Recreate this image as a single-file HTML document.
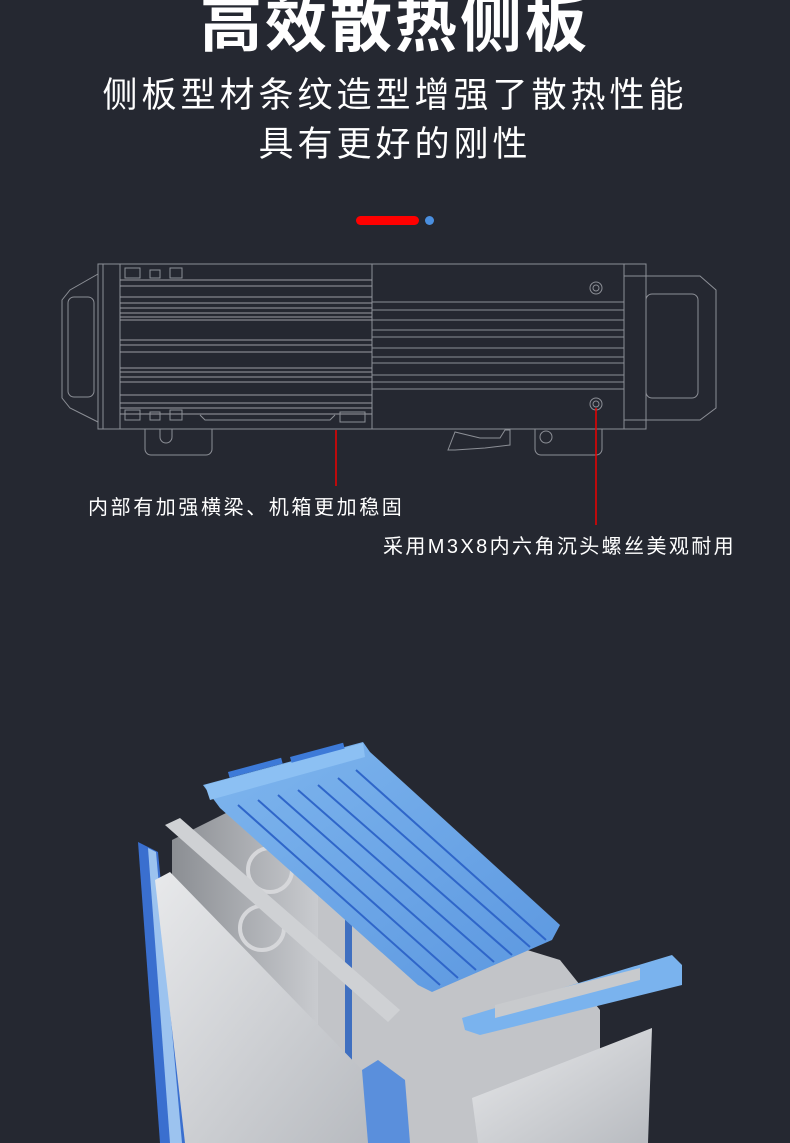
<!DOCTYPE html>
<html><head><meta charset="utf-8"><style>
html,body{margin:0;padding:0;}
body{width:790px;height:1143px;background:#252831;position:relative;overflow:hidden;font-family:"Liberation Sans","Noto Sans CJK SC",sans-serif;color:#fff;}
.t{position:absolute;left:0;width:790px;text-align:center;white-space:nowrap;}
</style></head><body>
<div class="t" style="top:-14px;font-size:62px;font-weight:bold;letter-spacing:3px;line-height:80px;">高效散热侧板</div>
<div class="t" style="top:74px;font-size:35px;letter-spacing:4px;line-height:44px;">侧板型材条纹造型增强了散热性能</div>
<div class="t" style="top:123px;font-size:35px;letter-spacing:4px;line-height:44px;">具有更好的刚性</div>
<div style="position:absolute;left:356px;top:216px;width:63px;height:9px;border-radius:5px;background:#f00;"></div>
<div style="position:absolute;left:425px;top:216px;width:9px;height:9px;border-radius:5px;background:#4a8fe0;"></div>

<svg width="790" height="1143" style="position:absolute;left:0;top:0" xmlns="http://www.w3.org/2000/svg">
<g fill="none" stroke="#8c8f96" stroke-width="1">
 <path d="M98,274 L70,290 L62,300 L62,398 L70,408 L98,422"/>
 <rect x="68" y="297" width="26" height="100" rx="6"/>
 <rect x="98" y="264" width="548" height="165"/>
 <line x1="103" y1="264" x2="103" y2="429"/>
 <line x1="120" y1="264" x2="120" y2="429"/>
 <line x1="372" y1="264" x2="372" y2="429"/>
 <line x1="624" y1="264" x2="624" y2="429"/>
 <g stroke="#9a9da4">
 <line x1="120" y1="280" x2="372" y2="280"/><line x1="120" y1="286" x2="372" y2="286"/>
 <line x1="120" y1="297" x2="372" y2="297"/><line x1="120" y1="303" x2="372" y2="303"/>
 <line x1="120" y1="308" x2="372" y2="308"/><line x1="120" y1="313" x2="372" y2="313"/>
 <line x1="120" y1="317" x2="372" y2="317"/><line x1="120" y1="320" x2="372" y2="320"/>
 <line x1="120" y1="340" x2="372" y2="340"/><line x1="120" y1="345" x2="372" y2="345"/>
 <line x1="120" y1="352" x2="372" y2="352"/><line x1="120" y1="368" x2="372" y2="368"/>
 <line x1="120" y1="372" x2="372" y2="372"/><line x1="120" y1="377" x2="372" y2="377"/>
 <line x1="120" y1="382" x2="372" y2="382"/><line x1="120" y1="395" x2="372" y2="395"/>
 <line x1="120" y1="403" x2="372" y2="403"/><line x1="120" y1="408" x2="372" y2="408"/>
 <line x1="120" y1="414" x2="372" y2="414"/>
 </g>
 <line x1="372" y1="302" x2="624" y2="302"/><line x1="372" y1="310" x2="624" y2="310"/>
 <line x1="372" y1="320" x2="624" y2="320"/><line x1="372" y1="330" x2="624" y2="330"/>
 <line x1="372" y1="337" x2="624" y2="337"/><line x1="372" y1="348" x2="624" y2="348"/>
 <line x1="372" y1="357" x2="624" y2="357"/><line x1="372" y1="363" x2="624" y2="363"/>
 <line x1="372" y1="375" x2="624" y2="375"/><line x1="372" y1="382" x2="624" y2="382"/>
 <line x1="372" y1="389" x2="624" y2="389"/>
 <circle cx="596" cy="288" r="6"/><circle cx="596" cy="288" r="3"/>
 <circle cx="596" cy="404" r="6"/><circle cx="596" cy="404" r="3"/>
 <path d="M125,268 h15 v10 h-15z M150,270 h10 v8 h-10z M170,268 h12 v10 h-12z"/>
 <path d="M125,410 h15 v10 h-15z M150,412 h10 v8 h-10z M170,410 h12 v10 h-12z M340,412 h25 v10 h-25z"/>
 <path d="M200,415 L205,420 L330,420 L335,415"/>
 <path d="M624,276 L700,276 L716,290 L716,408 L700,420 L624,420"/>
 <rect x="646" y="294" width="52" height="104" rx="6"/>
 <path d="M145,429 v20 a6,6 0 0 0 6,6 h55 a6,6 0 0 0 6,-6 v-20"/>
 <path d="M160,429 v8 a6,6 0 0 0 12,0 v-8"/>
 <path d="M535,429 v20 a6,6 0 0 0 6,6 h55 a6,6 0 0 0 6,-6 v-20"/>
 <path d="M448,450 L455,432 L480,438 L500,438 L505,430 L510,430 L510,445 L485,448 L455,450 Z"/>
 <circle cx="546" cy="437" r="6"/>
</g>
<line x1="336" y1="430" x2="336" y2="486" stroke="#e00" stroke-width="1.5"/>
<line x1="596" y1="408" x2="596" y2="525" stroke="#e00" stroke-width="1.5"/>

<defs>
 <linearGradient id="sil" x1="0" y1="0" x2="1" y2="1"><stop offset="0" stop-color="#e8e9eb"/><stop offset="1" stop-color="#b8bbc0"/></linearGradient>
 <linearGradient id="sil2" x1="0" y1="0" x2="1" y2="0"><stop offset="0" stop-color="#8b8e93"/><stop offset="1" stop-color="#c9cbcf"/></linearGradient>
 <linearGradient id="blu" x1="0" y1="0" x2="1" y2="1"><stop offset="0" stop-color="#7fb6ee"/><stop offset="1" stop-color="#5b97e0"/></linearGradient>
</defs>
<polygon points="172,840 232,810 318,880 318,1143 172,1143" fill="url(#sil2)"/>
<polygon points="318,880 380,905 560,960 600,1010 600,1143 318,1143" fill="#c2c4c8"/>
<polygon points="345,915 352,918 352,1143 345,1143" fill="#3f6fc0"/>
<circle cx="270" cy="870" r="22" fill="none" stroke="#d6d7da" stroke-width="4"/>
<circle cx="262" cy="928" r="22" fill="none" stroke="#d6d7da" stroke-width="4"/>
<polygon points="138,842 158,852 186,1143 160,1143" fill="#3a6fcf"/>
<polygon points="148,848 156,852 182,1143 170,1143" fill="#9cc3ef"/>
<polygon points="155,880 170,872 362,1070 368,1143 185,1143" fill="url(#sil)"/>
<polygon points="165,825 180,818 400,1010 388,1022" fill="#cfd1d4"/>
<polygon points="362,1070 378,1060 405,1080 410,1143 368,1143" fill="#5a8fdc"/>
<polygon points="203,785 363,742 370,752 560,925 552,940 432,992 418,985 220,808" fill="url(#blu)"/>
<g stroke="#2f66c9" stroke-width="2">
 <line x1="238" y1="805" x2="440" y2="985"/><line x1="258" y1="800" x2="458" y2="978"/>
 <line x1="278" y1="795" x2="476" y2="970"/><line x1="298" y1="790" x2="494" y2="962"/>
 <line x1="318" y1="785" x2="512" y2="955"/><line x1="338" y1="778" x2="530" y2="947"/>
 <line x1="356" y1="770" x2="546" y2="940"/>
</g>
<polygon points="205,785 363,743 365,757 210,800" fill="#8cc0f3"/>
<rect x="228" y="772" width="55" height="6" fill="#3d7ad8" transform="rotate(-15 228 772)"/>
<rect x="290" y="757" width="55" height="6" fill="#3d7ad8" transform="rotate(-15 290 757)"/>
<polygon points="472,1098 652,1028 648,1143 478,1143" fill="url(#sil)"/>
<polygon points="462,1018 672,955 682,965 682,985 480,1035 465,1030" fill="#7ab3ee"/>
<polygon points="495,1005 640,968 640,980 495,1018" fill="#c8cacd"/>
</svg>

<div style="position:absolute;left:88px;top:495px;font-size:20px;line-height:26px;letter-spacing:2.6px;white-space:nowrap;">内部有加强横梁、机箱更加稳固</div>
<div style="position:absolute;left:383px;top:534px;font-size:20px;line-height:26px;letter-spacing:2.4px;white-space:nowrap;">采用M3X8内六角沉头螺丝美观耐用</div>
</body></html>
